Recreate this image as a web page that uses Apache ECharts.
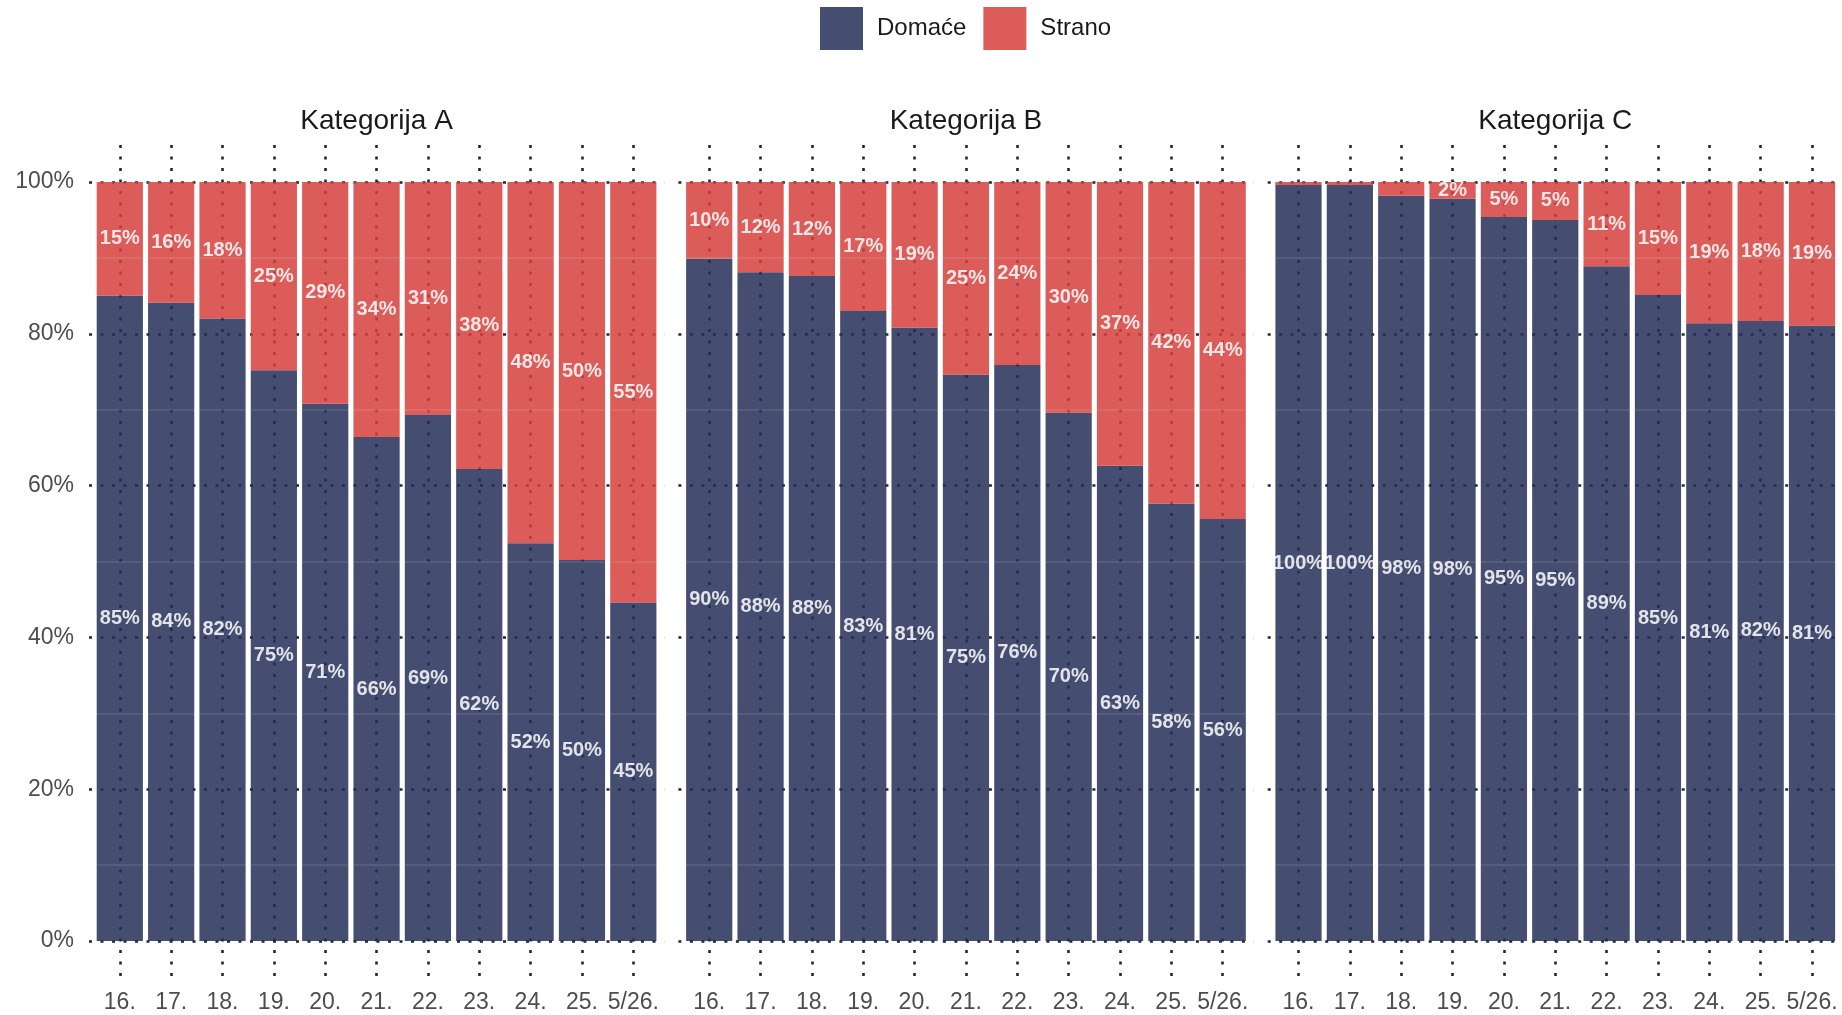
<!DOCTYPE html>
<html>
<head>
<meta charset="utf-8">
<title>Domaće / Strano</title>
<script src="https://cdn.jsdelivr.net/npm/echarts@6/dist/echarts.min.js"></script>
<style>
  html, body { margin: 0; padding: 0; background: #fff; }
  #chart { width: 1842px; height: 1015px; }
</style>
</head>
<body>
<div id="chart"></div>
<script>
// kategorije (paneli) i godine
const panels = ['Kategorija A', 'Kategorija B', 'Kategorija C']
const years = ['16.', '17.', '18.', '19.', '20.', '21.', '22.', '23.', '24.', '25.', '5/26.']

// udjeli u % (procjena s grafa)
const domaceA = [85.0, 84.1, 82.0, 75.2, 70.8, 66.4, 69.3, 62.2, 52.4, 50.2, 44.6]
const stranoA = [15.0, 15.9, 18.0, 24.8, 29.2, 33.6, 30.7, 37.8, 47.6, 49.8, 55.4]
const domaceB = [89.9, 88.1, 87.6, 83.0, 80.8, 74.6, 75.9, 69.6, 62.6, 57.6, 55.6]
const stranoB = [10.1, 11.9, 12.4, 17.0, 19.2, 25.4, 24.1, 30.4, 37.4, 42.4, 44.4]
const domaceC = [99.6, 99.6, 98.2, 97.8, 95.4, 95.0, 88.9, 85.1, 81.4, 81.7, 81.1]
const stranoC = [0.4, 0.4, 1.8, 2.2, 4.6, 5.0, 11.1, 14.9, 18.6, 18.3, 18.9]

const yTicks = [0, 20, 40, 60, 80, 100]

const domace = [domaceA, domaceB, domaceC]
const strano = [stranoA, stranoB, stranoC]

const chart = echarts.init(document.getElementById('chart'))

// layout
const bandW = 51.35
const panelLeft = [89, 678.4, 1267.7]
const plotTop = 182
const plotHeight = 759
const dotted = { color: '#1e2640', width: 2.6, type: [3, 8.5] }
const fontFamily = "'Liberation Sans', Arial, sans-serif"

const grid = []
const xAxis = []
const yAxis = []
const series = []
const title = []

panels.forEach((name, p) => {
  const left = panelLeft[p]
  const g = grid.length

  // horizontalne linije + oznake osi y
  grid.push({ left: left, top: plotTop, width: 11.2 * bandW, height: plotHeight })
  xAxis.push({ gridIndex: g, type: 'value', show: false })
  yAxis.push({
    gridIndex: g,
    type: 'value',
    min: yTicks[0],
    max: yTicks[yTicks.length - 1],
    interval: yTicks[1] - yTicks[0],
    axisLine: { show: false },
    axisTick: { show: false },
    axisLabel: {
      show: p === 0,
      formatter: '{value}%',
      margin: 15,
      padding: [4, 0, 0, 0],
      fontSize: 23,
      color: '#4d4d4d',
      fontFamily: fontFamily
    },
    splitLine: { show: true, lineStyle: dotted }
  })

  // vertikalne linije + godine
  grid.push({ left: left + 0.6 * bandW, top: 145, width: 10 * bandW, height: 835 })
  xAxis.push({
    gridIndex: g + 1,
    type: 'category',
    data: years,
    boundaryGap: false,
    axisLine: { show: false },
    axisTick: { show: false },
    axisLabel: { interval: 0, margin: 11, fontSize: 23, color: '#4d4d4d', fontFamily: fontFamily },
    splitLine: { show: true, interval: 0, lineStyle: dotted }
  })
  yAxis.push({ gridIndex: g + 1, type: 'value', min: 0, max: 1, show: false })

  // stupci
  grid.push({ left: left + 0.1 * bandW, top: plotTop, width: 11 * bandW, height: plotHeight })
  xAxis.push({ gridIndex: g + 2, type: 'category', data: years, show: false })
  yAxis.push({
    gridIndex: g + 2,
    type: 'value',
    min: 0,
    max: 100,
    interval: 20,
    z: 3,
    axisLine: { show: false },
    axisTick: { show: false },
    axisLabel: { show: false },
    splitLine: { show: false },
    minorTick: { show: false, splitNumber: 2 },
    minorSplitLine: { show: true, lineStyle: { color: 'rgba(230,230,230,0.14)', width: 1.5 } }
  })

  const label = {
    show: true,
    position: 'inside',
    color: '#fff',
    fontSize: 20,
    fontWeight: 'bold',
    fontFamily: fontFamily,
    formatter: function(d) {
      return d.value >= 1.95 ? Math.round(d.value) + '%' : ''
    }
  }

  series.push({
    name: 'Domaće',
    type: 'bar',
    stack: 'p' + p,
    xAxisIndex: g + 2,
    yAxisIndex: g + 2,
    barCategoryGap: '10%',
    itemStyle: { color: '#252f57', opacity: 0.85 },
    label: label,
    data: domace[p]
  })
  series.push({
    name: 'Strano',
    type: 'bar',
    stack: 'p' + p,
    xAxisIndex: g + 2,
    yAxisIndex: g + 2,
    barCategoryGap: '10%',
    itemStyle: { color: '#d63f3d', opacity: 0.85 },
    label: label,
    data: strano[p]
  })

  title.push({
    text: name,
    left: left + 5.6 * bandW,
    textAlign: 'center',
    top: 107,
    padding: 0,
    textStyle: { fontSize: 28, fontWeight: 'normal', color: '#1a1a1a', fontFamily: fontFamily }
  })
})

chart.setOption({
  animation: false,
  title: title,
  legend: {
    data: ['Domaće', 'Strano'],
    left: 815,
    top: 2,
    icon: 'rect',
    itemWidth: 43,
    itemHeight: 43,
    itemGap: 17,
    textStyle: { fontSize: 24, color: '#1a1a1a', fontFamily: fontFamily, padding: [0, 0, 0, 9] }
  },
  grid: grid,
  xAxis: xAxis,
  yAxis: yAxis,
  series: series
})
</script>
</body>
</html>
